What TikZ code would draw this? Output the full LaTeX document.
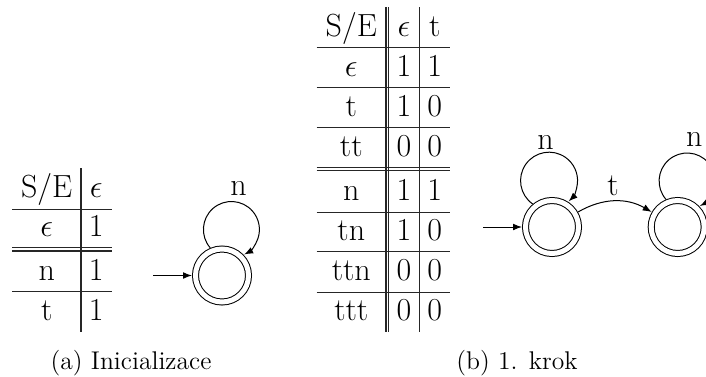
\RequirePackage{fix-cm}
\documentclass[tikz,border=0pt]{standalone}
\usepackage{fontspec}
\usetikzlibrary{arrows.meta}
\begin{document}
\begin{tikzpicture}[x=0.5pt,y=-0.5pt,
  every node/.style={font=\fontsize{16pt}{19pt}\selectfont},
  cell/.style={anchor=base,inner sep=0pt},
  rule/.style={line width=0.55pt,draw=black!85},
  stt/.style={circle,draw,line width=0.5pt,double,double distance=2.5pt,
    minimum size=26.5pt,inner sep=0pt,outer sep=1.75pt},
  arr/.style={line width=0.5pt,-{Latex[length=4.5pt,width=3.4pt]}},
  lbl/.style={anchor=base,inner sep=0pt},
  captext/.style={anchor=base,inner sep=0pt,font=\fontsize{12.8pt}{15pt}\selectfont}]
\useasboundingbox (0,0) rectangle (706,376);

% ---------- table (a)
\draw[rule] (81,168) -- (81,331.7);
\foreach \y in {209.3,247.7,251,291.7} \draw[rule] (12.3,\y) -- (111.7,\y);
\node[cell] (a00) at (46.7,197.5) {S/E};
\node[cell] (a01) at (96.3,197.5) {$\epsilon$};
\node[cell] (a10) at (46.7,236) {$\epsilon$};
\node[cell] (a11) at (96.3,236) {1};
\node[cell] (a20) at (46.7,280) {n};
\node[cell] (a21) at (96.3,280) {1};
\node[cell] (a30) at (46.7,320) {t};
\node[cell] (a31) at (96.3,320) {1};

% ---------- automaton (a)
\node[stt] (sa) at (222,275.5) {};
\coordinate (ia) at (153,275.5);
\draw[arr] (ia) -- (sa);
\draw[arr] (sa.113.6) arc[start angle=139,end angle=423,radius=28];
\node[lbl] (na) at (238.6,195) {n};

% ---------- table (b)
\foreach \x in {386,388.5,419.3} \draw[rule] (\x,7) -- (\x,331.7);
\foreach \y in {47.7,87.7,127.7,167.3,170.7,212.3,251.7,292.3} \draw[rule] (316.7,\y) -- (450,\y);
\node[cell] (b00) at (351.3,36) {S/E};
\node[cell] (b01) at (403.9,36) {$\epsilon$};
\node[cell] (b02) at (434.8,36) {t};
\node[cell] (b10) at (351.3,76) {$\epsilon$};
\node[cell] (b11) at (403.9,76) {1};
\node[cell] (b12) at (434.8,76) {1};
\node[cell] (b20) at (351.3,116) {t};
\node[cell] (b21) at (403.9,116) {1};
\node[cell] (b22) at (434.8,116) {0};
\node[cell] (b30) at (351.3,156) {tt};
\node[cell] (b31) at (403.9,156) {0};
\node[cell] (b32) at (434.8,156) {0};
\node[cell] (b40) at (351.3,200.5) {n};
\node[cell] (b41) at (403.9,200.5) {1};
\node[cell] (b42) at (434.8,200.5) {1};
\node[cell] (b50) at (351.3,240) {tn};
\node[cell] (b51) at (403.9,240) {1};
\node[cell] (b52) at (434.8,240) {0};
\node[cell] (b60) at (351.3,280.5) {ttn};
\node[cell] (b61) at (403.9,280.5) {0};
\node[cell] (b62) at (434.8,280.5) {0};
\node[cell] (b70) at (351.3,320) {ttt};
\node[cell] (b71) at (403.9,320) {0};
\node[cell] (b72) at (434.8,320) {0};

% ---------- automaton (b)
\node[stt] (s1) at (552,227) {};
\node[stt] (s2) at (677.7,227) {};
\coordinate (ib) at (483,227);
\draw[arr] (ib) -- (s1);
\draw[arr] (s1.130.6) arc[start angle=125,end angle=406.5,radius=28.5];
\node[lbl] (n1) at (545.5,149) {n};
\draw[arr] (s2.113.6) arc[start angle=139,end angle=423,radius=28];
\node[lbl] (n2) at (694.3,146.5) {n};
\draw[arr] (s1) to[out=30,in=150] (s2);
\node[lbl] (tl) at (613,195) {t};

% ---------- captions
\node[captext] (capa) at (131,369.5) {(a) Inicializace};
\node[captext] (capb) at (517,369.5) {(b) 1. krok};
\end{tikzpicture}
\end{document}
